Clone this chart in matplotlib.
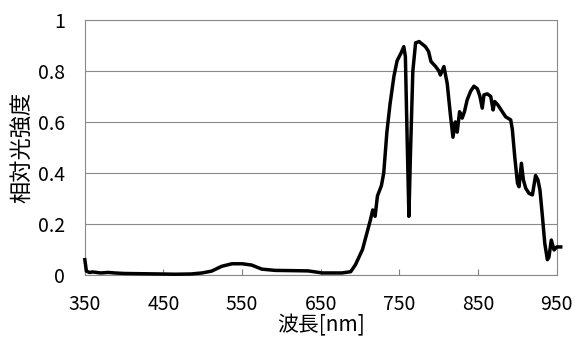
import matplotlib
matplotlib.use("Agg")
import matplotlib.pyplot as plt

plt.rcParams['font.family'] = ['Noto Sans CJK JP', 'DejaVu Sans']

# spectrum
wavelength = [350, 352, 356, 360, 370, 380, 388, 400, 422, 445, 465, 485, 499, 511, 524,
              537, 550, 562, 575, 592, 615, 634, 652, 677, 688, 694, 703, 713, 716,
              719, 722, 727, 730, 734, 738, 743, 747, 752, 755.5, 757.5, 759.7, 762,
              764, 767, 770.5, 775, 783, 787, 790, 796, 800, 802, 806.5, 810.7, 815,
              818, 821, 823.4, 826.4, 829.7, 832.6, 836, 840.4, 844.6, 849, 852.3,
              855.2, 857.4, 861.6, 866, 869, 871, 875, 880.7, 885, 891.4, 893.5,
              896.5, 900, 902, 905, 907.5, 910.5, 914.7, 919, 923, 926, 928.6,
              931.7, 934.7, 938, 940, 943, 946.5, 950, 955]
intensity = [0.06, 0.015, 0.01, 0.012, 0.008, 0.01, 0.008, 0.006, 0.005, 0.004, 0.003,
             0.004, 0.008, 0.015, 0.034, 0.044, 0.044, 0.039, 0.023, 0.018, 0.017,
             0.016, 0.008, 0.008, 0.013, 0.04, 0.1, 0.215, 0.255, 0.23, 0.31, 0.35,
             0.40, 0.56, 0.67, 0.78, 0.84, 0.87, 0.895, 0.856, 0.54, 0.23, 0.48, 0.80,
             0.91, 0.915, 0.895, 0.876, 0.837, 0.817, 0.80, 0.784, 0.817, 0.75, 0.62,
             0.54, 0.60, 0.56, 0.64, 0.615, 0.64, 0.686, 0.72, 0.74, 0.73, 0.70, 0.654,
             0.706, 0.71, 0.70, 0.647, 0.68, 0.667, 0.64, 0.62, 0.608, 0.57, 0.464,
             0.36, 0.346, 0.438, 0.373, 0.34, 0.32, 0.314, 0.39, 0.373, 0.333, 0.23,
             0.124, 0.06, 0.07, 0.137, 0.098, 0.11, 0.11]

xticks = [350, 450, 550, 650, 750, 850, 950]
yticks = [0, 0.2, 0.4, 0.6, 0.8, 1]
ytick_labels = ['0', '0.2', '0.4', '0.6', '0.8', '1']

fig = plt.figure(figsize=(5.77, 3.37), dpi=100)
ax = fig.add_axes([0.147, 0.184, 0.818, 0.757])

ax.plot(wavelength, intensity, color='black', lw=2.5, clip_on=False, zorder=3)

ax.set_xlim(350, 950)
ax.set_ylim(0, 1)
ax.set_xticks(xticks)
ax.set_yticks(yticks)
ax.set_yticklabels(ytick_labels)
ax.grid(axis='y', color='#8a8a8a', lw=0.8)
ax.tick_params(axis='x', direction='in', length=4, width=0.8, color='#808080',
               labelsize=14, pad=14)
ax.tick_params(axis='y', length=0, labelsize=14, pad=14)
for s in ax.spines.values():
    s.set_color('#8a8a8a')
    s.set_linewidth(0.8)

ax.set_xlabel('波長[nm]', fontsize=15, labelpad=-1)
ax.set_ylabel('相対光強度', fontsize=16, labelpad=4)

fig.savefig('out.png', dpi=100)
